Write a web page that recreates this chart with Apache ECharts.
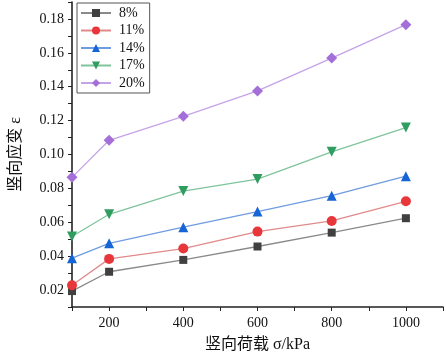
<!DOCTYPE html>
<html>
<head>
<meta charset="UTF-8">
<title>竖向应变</title>
<script src="https://cdn.jsdelivr.net/npm/echarts@6/dist/echarts.min.js"></script>
<style>
  html, body { margin: 0; padding: 0; background: #fff; }
</style>
</head>
<body>
<div id="main" style="width: 446px;height:358px;"></div>
<script type="text/javascript">
// 横坐标：竖向荷载 (kPa)
var loads = [100, 200, 400, 600, 800, 1000];
// 各含水率下的竖向应变
var s8  = [0.0194, 0.0308, 0.0378, 0.0457, 0.0539, 0.0624];
var s11 = [0.0228, 0.0384, 0.0445, 0.0545, 0.0608, 0.0724];
var s14 = [0.0388, 0.0476, 0.0571, 0.0663, 0.0757, 0.0872];
var s17 = [0.0516, 0.0647, 0.0784, 0.0855, 0.1016, 0.1159];
var s20 = [0.0865, 0.1084, 0.1225, 0.1375, 0.1569, 0.1766];
var names = ['8%', '11%', '14%', '17%', '20%'];

function pairs(ys) {
    return loads.map(function (x, i) { return [x, ys[i]]; });
}

var serif = "'Liberation Serif', 'Noto Sans CJK SC', serif";
var myChart = echarts.init(document.getElementById('main'));

function line(name, ys, symbol, size, markColor, lineColor) {
    return {
        name: name,
        type: 'line',
        data: pairs(ys),
        symbol: symbol,
        symbolSize: size,
        itemStyle: { color: markColor },
        lineStyle: { color: lineColor, width: 1.3 },
        z: 3
    };
}

var option = {
    animation: false,
    grid: { left: 66, right: 3, top: 2, bottom: 49 },
    legend: {
        orient: 'vertical',
        left: 77, top: 3,
        itemWidth: 30, itemHeight: 10, itemGap: 3.5,
        padding: [3, 5, 3, 3],
        borderColor: '#555', borderWidth: 1,
        textStyle: { fontFamily: serif, fontSize: 14, color: '#111', padding: [0, 0, 0, 3] },
        data: names
    },
    xAxis: {
        type: 'value',
        min: 100, max: 1100, interval: 100,
        name: '竖向荷载 σ/kPa',
        nameLocation: 'middle', nameGap: 30,
        nameTextStyle: { fontFamily: serif, fontSize: 16, color: '#111' },
        axisLine: { lineStyle: { color: '#222', width: 1.6 } },
        axisTick: { inside: false, length: 4, lineStyle: { color: '#222' } },
        splitLine: { show: false },
        axisLabel: {
            fontFamily: serif, fontSize: 14, color: '#111', margin: 9,
            formatter: function (v) { return v % 200 === 0 ? String(v) : ''; }
        }
    },
    yAxis: {
        type: 'value',
        min: 0.01, max: 0.19, interval: 0.01,
        name: '竖向应变 ε',
        nameLocation: 'middle', nameGap: 48, nameRotate: 90,
        nameTextStyle: { fontFamily: serif, fontSize: 16, color: '#111' },
        axisLine: { show: true, lineStyle: { color: '#222', width: 1.6 } },
        axisTick: { show: true, length: 4, lineStyle: { color: '#222' } },
        splitLine: { show: false },
        axisLabel: {
            fontFamily: serif, fontSize: 14, color: '#111', margin: 8,
            formatter: function (v) {
                var k = Math.round(v * 100);
                return k % 2 === 0 ? v.toFixed(2) : '';
            }
        }
    },
    series: [
        line('8%',  s8,  'rect', 8, '#404040', '#8a8a8a'),
        line('11%', s11, 'circle', 10, '#e8373a', '#e08a8b'),
        line('14%', s14, 'triangle', 10, '#1764d6', '#6f9ce0'),
        line('17%', s17, 'path://M0,0 L10,0 L5,9 Z', 10, '#2f9c60', '#7fc49b'),
        line('20%', s20, 'diamond', 11, '#a46fd8', '#c4a3e8')
    ]
};

myChart.setOption(option);
</script>
</body>
</html>
